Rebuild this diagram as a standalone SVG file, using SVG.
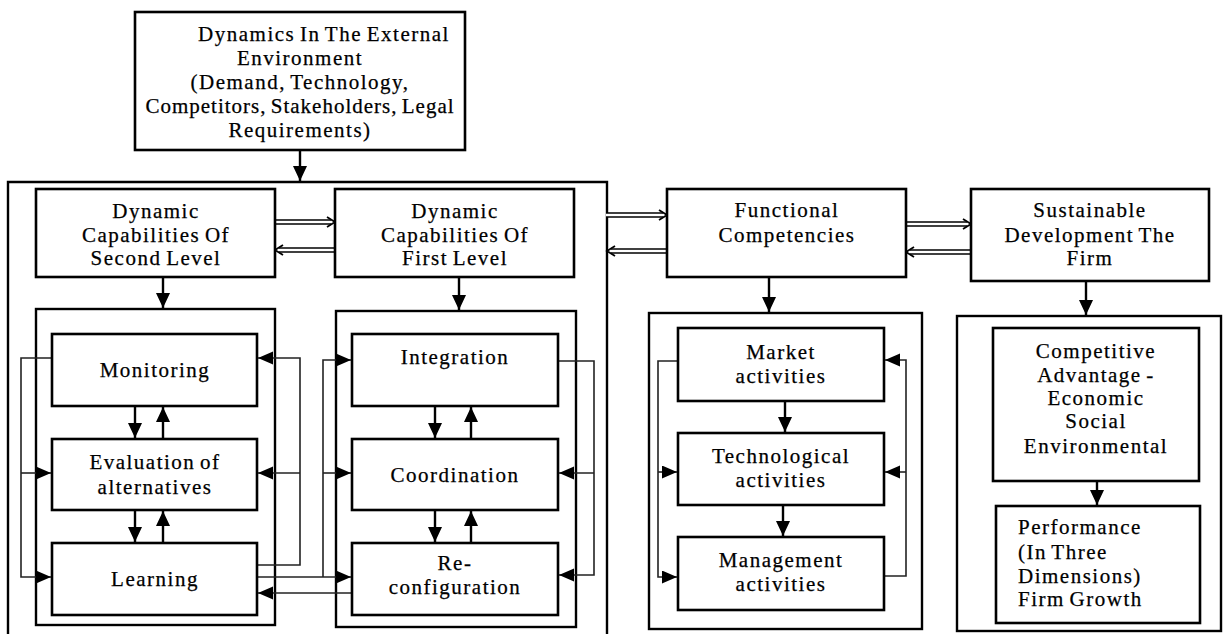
<svg xmlns="http://www.w3.org/2000/svg" width="1225" height="634" viewBox="0 0 1225 634">
<defs>
<marker id="ah" markerUnits="userSpaceOnUse" markerWidth="16" markerHeight="14" refX="15" refY="7" orient="auto">
<path d="M0,0 L15,7 L0,14 z" fill="#000"/>
</marker>
<marker id="ahs" markerUnits="userSpaceOnUse" markerWidth="16" markerHeight="14" refX="15" refY="6.5" orient="auto">
<path d="M0,0 L15,6.5 L0,13 z" fill="#000"/>
</marker>
</defs>
<style>
text{font-family:"Liberation Serif","Times New Roman",serif;font-size:21px;fill:#000;stroke:#000;stroke-width:0.25;letter-spacing:1.5px;word-spacing:-2px;text-anchor:middle}
.l{text-anchor:start}
.box{fill:#fff;stroke:#000;stroke-width:2.6}
.frame{fill:none;stroke:#000;stroke-width:2.4}
.ln{fill:none;stroke:#000;stroke-width:2.4}
.fb{fill:none;stroke:#222;stroke-width:1.6}
.dbl{fill:none;stroke:#000;stroke-width:5.5}
.dblw{fill:none;stroke:#fff;stroke-width:2.5}
.chev{fill:none;stroke:#000;stroke-width:1.8}
</style>
<rect width="1225" height="634" fill="#fff"/>

<g id="frames">
<path class="frame" d="M8,640 V182 H607 V640"/>
<rect class="frame" x="36" y="309" width="239" height="316"/>
<rect class="frame" x="336" y="311" width="240" height="316"/>
<rect class="frame" x="649" y="313" width="273" height="316"/>
<rect class="frame" x="957" y="316" width="264" height="315"/>
</g>

<g id="connectors">
<path class="ln" d="M300,150 V181" marker-end="url(#ah)"/>
<path class="ln" d="M163,277 V308" marker-end="url(#ah)"/>
<path class="ln" d="M459,277 V310" marker-end="url(#ah)"/>
<path class="ln" d="M769,277 V312" marker-end="url(#ah)"/>
<path class="ln" d="M1086,281 V315" marker-end="url(#ah)"/>
<path class="ln" d="M135,406 V438" marker-end="url(#ah)"/>
<path class="ln" d="M163,439 V407" marker-end="url(#ah)"/>
<path class="ln" d="M135,510 V542" marker-end="url(#ah)"/>
<path class="ln" d="M163,543 V511" marker-end="url(#ah)"/>
<path class="ln" d="M435,406 V438" marker-end="url(#ah)"/>
<path class="ln" d="M471,439 V407" marker-end="url(#ah)"/>
<path class="ln" d="M435,510 V542" marker-end="url(#ah)"/>
<path class="ln" d="M471,543 V511" marker-end="url(#ah)"/>
<path class="ln" d="M785,401 V432" marker-end="url(#ah)"/>
<path class="ln" d="M783,505 V536" marker-end="url(#ah)"/>
<path class="ln" d="M1097,481 V505" marker-end="url(#ah)"/>

<g>
<path class="dbl" d="M275,222 H331"/><path class="dblw" d="M274,222 H332"/><path class="chev" d="M327,217 L335,222 L327,227"/>
<path class="dbl" d="M335,250 H279"/><path class="dblw" d="M336,250 H278"/><path class="chev" d="M283,245 L275,250 L283,255"/>
<path class="dbl" d="M607,215 H663"/><path class="dblw" d="M606,215 H664"/><path class="chev" d="M659,210 L667,215 L659,220"/>
<path class="dbl" d="M667,251 H611"/><path class="dblw" d="M668,251 H610"/><path class="chev" d="M615,246 L607,251 L615,256"/>
<path class="dbl" d="M906,224 H967"/><path class="dblw" d="M905,224 H968"/><path class="chev" d="M963,219 L971,224 L963,229"/>
<path class="dbl" d="M971,252 H910"/><path class="dblw" d="M972,252 H909"/><path class="chev" d="M914,247 L906,252 L914,257"/>
</g>

<path class="fb" d="M52,358 H21 V577 H51" marker-end="url(#ahs)"/>
<path class="fb" d="M21,473 H51" marker-end="url(#ahs)"/>
<path class="fb" d="M257,565 H300 V358 H258" marker-end="url(#ahs)"/>
<path class="fb" d="M300,473 H258" marker-end="url(#ahs)"/>
<path class="fb" d="M257,577 H351" marker-end="url(#ahs)"/>
<path class="fb" d="M323,577 V360 H351" marker-end="url(#ahs)"/>
<path class="fb" d="M323,473 H351" marker-end="url(#ahs)"/>
<path class="fb" d="M352,593 H258" marker-end="url(#ahs)"/>
<path class="fb" d="M558,361 H594 V575 H559" marker-end="url(#ahs)"/>
<path class="fb" d="M594,473 H559" marker-end="url(#ahs)"/>
<path class="fb" d="M678,361 H658 V577 H677" marker-end="url(#ahs)"/>
<path class="fb" d="M658,472 H677" marker-end="url(#ahs)"/>
<path class="fb" d="M884,576 H906 V360 H885" marker-end="url(#ahs)"/>
<path class="fb" d="M906,472 H885" marker-end="url(#ahs)"/>
</g>

<g id="external">
<rect class="box" x="135" y="12" width="330" height="138"/>
<text x="324" y="41">Dynamics In The External</text>
<text x="300" y="65">Environment</text>
<text x="300" y="89">(Demand, Technology,</text>
<text x="300" y="113" style="letter-spacing:1px">Competitors, Stakeholders, Legal</text>
<text x="300" y="137">Requirements)</text>
</g>

<g id="second-level">
<rect class="box" x="36" y="189" width="239" height="88"/>
<text x="156" y="218">Dynamic</text>
<text x="156" y="242">Capabilities Of</text>
<text x="156" y="265">Second Level</text>
</g>

<g id="first-level">
<rect class="box" x="335" y="189" width="239" height="88"/>
<text x="455" y="218">Dynamic</text>
<text x="455" y="242">Capabilities Of</text>
<text x="455" y="265">First Level</text>
</g>

<g id="functional">
<rect class="box" x="667" y="189" width="239" height="88"/>
<text x="787" y="217">Functional</text>
<text x="787" y="242">Competencies</text>
</g>

<g id="sustainable">
<rect class="box" x="971" y="189" width="238" height="92"/>
<text x="1090" y="217">Sustainable</text>
<text x="1090" y="242">Development The</text>
<text x="1090" y="265">Firm</text>
</g>

<g id="monitoring">
<rect class="box" x="52" y="334" width="205" height="72"/>
<text x="155" y="377">Monitoring</text>
</g>
<g id="evaluation">
<rect class="box" x="52" y="439" width="205" height="71"/>
<text x="155" y="469">Evaluation of</text>
<text x="155" y="494">alternatives</text>
</g>
<g id="learning">
<rect class="box" x="52" y="543" width="205" height="72"/>
<text x="155" y="586">Learning</text>
</g>

<g id="integration">
<rect class="box" x="352" y="334" width="206" height="72"/>
<text x="455" y="364">Integration</text>
</g>
<g id="coordination">
<rect class="box" x="352" y="439" width="206" height="71"/>
<text x="455" y="482">Coordination</text>
</g>
<g id="reconfiguration">
<rect class="box" x="352" y="543" width="206" height="72"/>
<text x="455" y="570">Re-</text>
<text x="455" y="594">configuration</text>
</g>

<g id="market">
<rect class="box" x="678" y="328" width="206" height="73"/>
<text x="781" y="359">Market</text>
<text x="781" y="383">activities</text>
</g>
<g id="technological">
<rect class="box" x="678" y="433" width="206" height="72"/>
<text x="781" y="463">Technological</text>
<text x="781" y="487">activities</text>
</g>
<g id="management">
<rect class="box" x="678" y="537" width="206" height="73"/>
<text x="781" y="567">Management</text>
<text x="781" y="591">activities</text>
</g>

<g id="competitive">
<rect class="box" x="993" y="328" width="206" height="153"/>
<text x="1096" y="358">Competitive</text>
<text x="1096" y="382">Advantage -</text>
<text x="1096" y="405">Economic</text>
<text x="1096" y="428">Social</text>
<text x="1096" y="453">Environmental</text>
</g>
<g id="performance">
<rect class="box" x="996" y="506" width="204" height="117"/>
<text class="l" x="1018" y="534">Performance</text>
<text class="l" x="1018" y="559">(In Three</text>
<text class="l" x="1018" y="583">Dimensions)</text>
<text class="l" x="1018" y="606">Firm Growth</text>
</g>
</svg>
